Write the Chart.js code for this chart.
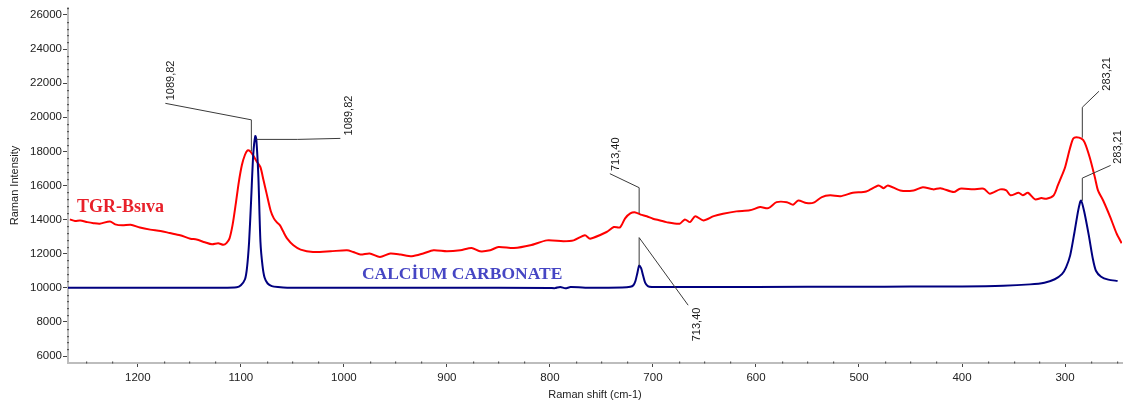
<!DOCTYPE html>
<html><head><meta charset="utf-8">
<script src="https://cdn.jsdelivr.net/npm/chart.js@4.4.1/dist/chart.umd.min.js"></script>
<style>html,body{margin:0;padding:0;background:#fff;}#wrap{width:1147px;height:405px;position:relative;}</style>
</head><body><div id="wrap"><canvas id="c" width="1147" height="405"></canvas></div>
<script>
// ---- DATA ----
const redShift = [1266,1261,1256,1249,1243,1237,1227,1222,1215,1207,1198,1188,1178,1169,1159,1149,1143,1135,1128,1122,1117,1114,1111,1108,1105,1102,1099,1096,1093.5,1091,1088,1084,1081,1078,1075,1071,1068,1065,1062,1059,1055,1049,1042,1030,1013,997,991,984,975,965,955,945,934,923,913,900,887,876,868,858,850,835,819,803,787,777,766,761,745,738,732,727,722,717,712,706,700,693,687,674,669,664,659,651,641,632,619,606,596,588,580,570,564,559,551,544,536,528,518,506,493,481,476,472,460,447,438,428,421,408,402,389,379,373,363,357,353,345,341,336,329,323,318,311,307,303,300,295,292,289,284,281,276,271,268,263,256,250,245];
const redIntensity = [14010,13910,13950,13850,13790,13760,13890,13720,13660,13700,13530,13410,13330,13210,13080,12880,12830,12670,12550,12610,12520,12620,12900,13700,14900,16200,17200,17800,18060,18000,17750,17350,17070,16300,15520,14500,14070,13840,13660,13310,12880,12490,12240,12100,12140,12200,12100,11950,12010,11810,12010,11950,11850,12010,12200,12140,12200,12330,12140,12200,12390,12330,12490,12780,12730,12780,13080,12880,13270,13560,13540,14070,14360,14420,14290,14190,14050,13950,13850,13760,14010,13850,14200,13950,14200,14340,14480,14540,14730,14670,15020,15020,14870,15120,14970,14990,15320,15420,15370,15570,15650,16000,15840,16000,15710,15710,15900,15770,15840,15610,15810,15770,15810,15520,15770,15710,15420,15570,15420,15570,15180,15260,15220,15420,16000,16590,17050,18220,18750,18830,18750,18530,17640,16470,15710,15120,14130,13190,12610];
const blueShift = [1268,1200,1150,1120,1104,1100,1096,1094,1092,1090,1088,1086,1085,1083,1081,1079,1077,1074,1070,1064,1055,1000,900,800,795,790,785,780,760,730,722,719,717,715,713.4,711.5,709.5,707.6,705,701,690,600,500,450,400,360,334,320,310,303,299,295,291,287,284.5,281.5,277,273,270,265,258,249];
const blueIntensity = [10000,10000,10000,10000,10030,10150,10500,11200,12700,15200,17800,18900,18700,16500,12700,11300,10600,10250,10100,10040,10000,10000,10000,9990,9980,10050,9970,10040,10000,10020,10060,10150,10400,10900,11300,11150,10700,10300,10100,10050,10040,10050,10060,10070,10080,10120,10200,10300,10500,10800,11200,11900,13200,14600,15120,14500,13100,11700,11000,10650,10480,10400];
const xTickValues = [1200,1100,1000,900,800,700,600,500,400,300];
const yTickValues = [6000,8000,10000,12000,14000,16000,18000,20000,22000,24000,26000];
const seriesNames = ['TGR-Bsıva','CALCİUM CARBONATE'];
const peakLabels = ['1089,82','1089,82','713,40','713,40','283,21','283,21'];
const peakShift = [1089.82,1089.82,713.40,713.40,283.21,283.21];
const peakIntensity = [18000,18700,14380,11300,18800,15100];

// ---- STYLE / GEOMETRY (pixel offsets for leader lines, relative to anchor) ----
const leaders = [
  {pts:[[0,0],[0,-31.5],[-86,-48]], text:[-80,-51], align:'left'},
  {pts:[[5,0],[46,0],[89,-1]], text:[98,-4], align:'left'},
  {pts:[[0,0],[0,-25.4],[-29.3,-39.4]], text:[-23,-42], align:'left'},
  {pts:[[0,0],[0,-28],[49,39.6]], text:[58,42], align:'right'},
  {pts:[[0,0],[0,-30.4],[16.6,-46.4]], text:[25,-47], align:'left'},
  {pts:[[0,0],[0,-22.7],[28.3,-35.4]], text:[35.5,-37], align:'left'}
];
const seriesLabelPos = [
  {x:1259, y:14440, font:'bold 18px "Liberation Serif"', color:'#e8202a'},
  {x:982.5, y:10500, font:'bold 17.5px "Liberation Serif"', color:'#4646c4'}
];

const toPts = (xs, ys) => xs.map((v,i)=>({x:v, y:ys[i]}));

const overlay = {
  id:'overlay',
  afterDatasetsDraw(chart){
    const {ctx, chartArea:ca, scales:{x, y}} = chart;
    ctx.save();
    ctx.fillStyle = '#555';
    for (let v=1250; v>=250; v-=25){
      if (v%100===0) continue;
      const px = Math.round(x.getPixelForValue(v));
      ctx.fillRect(px, ca.bottom-1.5, 1.2, 2);
    }
    for (let v=6400; v<=26400; v+=400){
      if (v%2000===0) continue;
      const py = Math.round(y.getPixelForValue(v));
      ctx.fillRect(ca.left-1, py, 2, 1.2);
    }
    ctx.strokeStyle = '#3a3a3a';
    ctx.lineWidth = 1;
    ctx.fillStyle = '#1a1a1a';
    ctx.font = '11px "Liberation Sans"';
    ctx.textBaseline = 'middle';
    peakLabels.forEach((lab,i)=>{
      const ax = x.getPixelForValue(peakShift[i]);
      const ay = y.getPixelForValue(peakIntensity[i]);
      const L = leaders[i];
      ctx.beginPath();
      L.pts.forEach((p,j)=>{ const X=ax+p[0], Y=ay+p[1]; j?ctx.lineTo(X,Y):ctx.moveTo(X,Y); });
      ctx.stroke();
      ctx.save();
      ctx.translate(ax+L.text[0], ay+L.text[1]);
      ctx.rotate(-Math.PI/2);
      ctx.textAlign = L.align;
      ctx.fillText(lab, 0, 0);
      ctx.restore();
    });
    ctx.textBaseline = 'alphabetic';
    ctx.textAlign = 'left';
    seriesNames.forEach((n,i)=>{
      const s = seriesLabelPos[i];
      ctx.font = s.font; ctx.fillStyle = s.color;
      ctx.fillText(n, x.getPixelForValue(s.x), y.getPixelForValue(s.y));
    });
    ctx.restore();
  }
};

new Chart(document.getElementById('c'), {
  type:'line',
  data:{datasets:[
    {label:seriesNames[1], data:toPts(blueShift, blueIntensity), borderColor:'#00007f', borderWidth:2, pointRadius:0, tension:0.25, fill:false},
    {label:seriesNames[0], data:toPts(redShift, redIntensity), borderColor:'#ff0000', borderWidth:2, pointRadius:0, tension:0.25, fill:false}
  ]},
  options:{
    responsive:false, animation:false, devicePixelRatio:1,
    layout:{padding:{top:7, right:25, left:0, bottom:0}},
    plugins:{legend:{display:false}, tooltip:{enabled:false}},
    scales:{
      x:{type:'linear', reverse:true, min:244.7, max:1267.8,
        afterBuildTicks:s=>{s.ticks = xTickValues.map(v=>({value:v}));},
        afterFit:s=>{s.height = 42;},
        ticks:{font:{family:'Liberation Sans', size:11.5}, color:'#222', padding:4, maxRotation:0, autoSkip:false, callback:v=>String(v)},
        grid:{display:true, drawOnChartArea:false, drawTicks:true, tickLength:4, tickColor:'#444', tickWidth:1},
        border:{color:'#bdbdbd', width:2},
        title:{display:true, text:'Raman shift (cm-1)', font:{family:'Liberation Sans', size:11}, color:'#222', padding:{top:0, bottom:3}}
      },
      y:{type:'linear', min:5590, max:26410,
        afterBuildTicks:s=>{s.ticks = yTickValues.map(v=>({value:v}));},
        afterFit:s=>{s.width = 68;},
        ticks:{font:{family:'Liberation Sans', size:11.5}, color:'#222', padding:1, autoSkip:false, callback:v=>String(v)},
        grid:{display:true, drawOnChartArea:false, drawTicks:true, tickLength:5, tickColor:'#444', tickWidth:1},
        border:{color:'#bdbdbd', width:2},
        title:{display:true, text:'Raman Intensity', font:{family:'Liberation Sans', size:11}, color:'#222', padding:{top:8, bottom:0}}
      }
    }
  },
  plugins:[overlay]
});
</script></body></html>
